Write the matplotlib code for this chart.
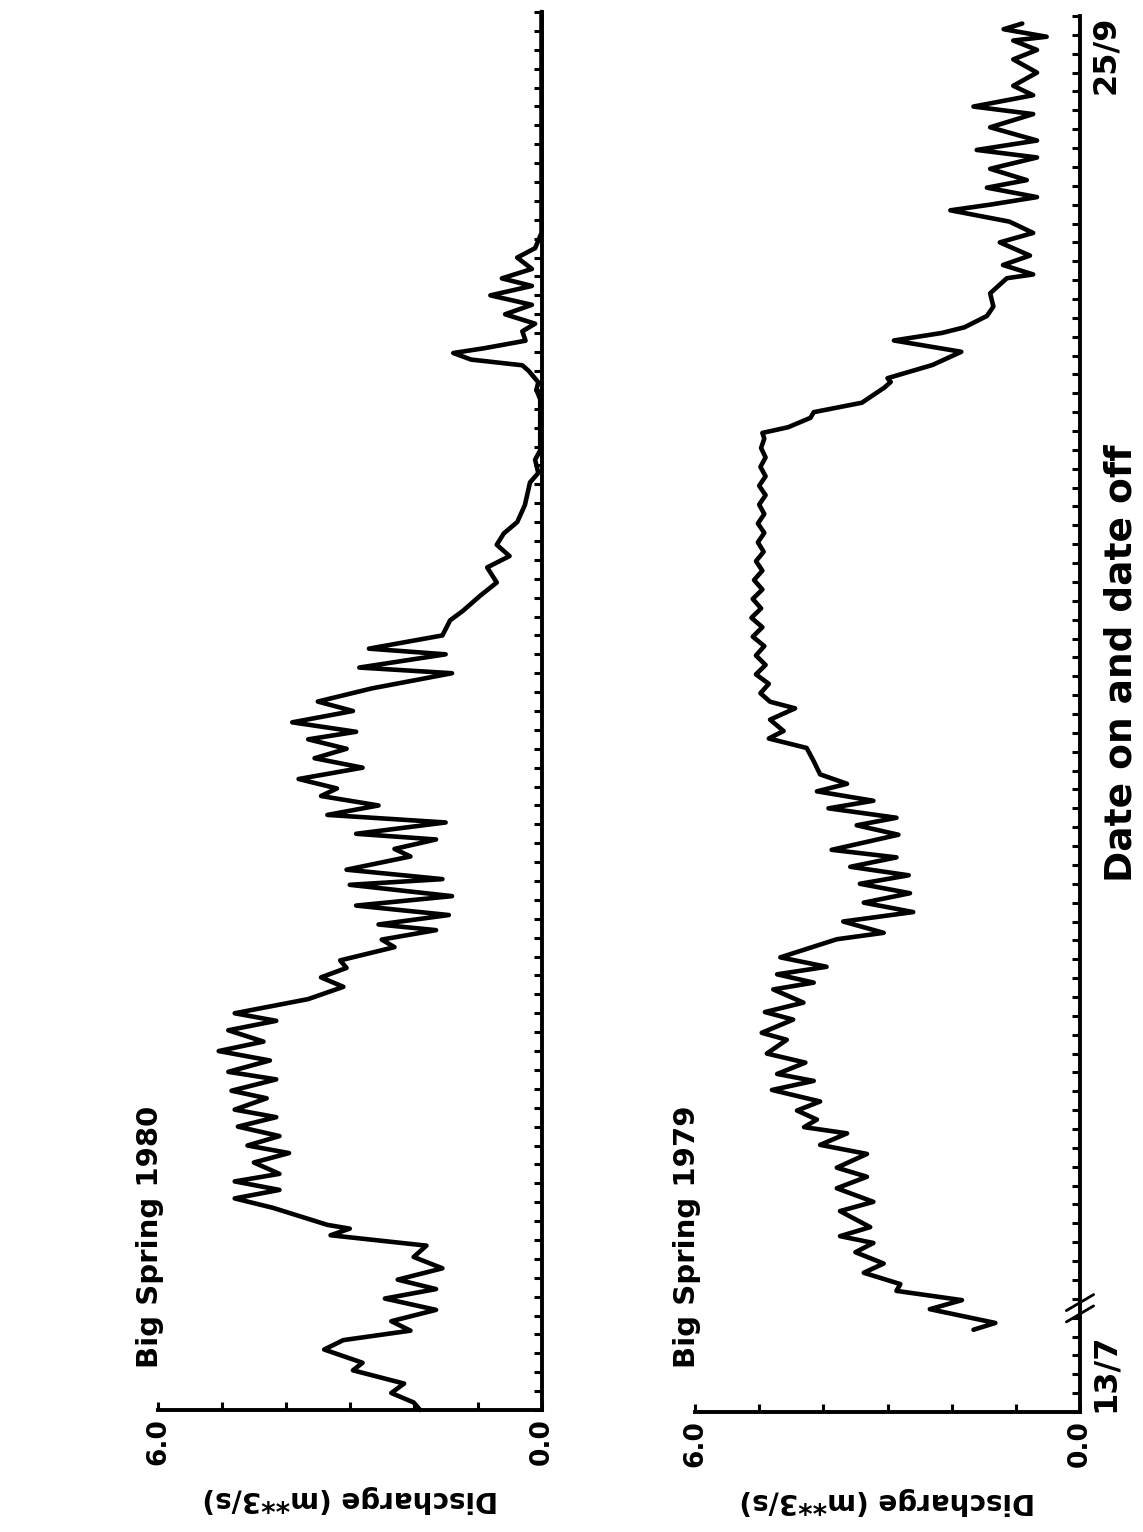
import numpy as np
import matplotlib
matplotlib.use("Agg")
import matplotlib.pyplot as plt

# ---------------------------------------------------------------
# Big Spring discharge, 1980 and 1979 (days after 13 July)
# ---------------------------------------------------------------
day_1980 = [0.0, 0.4, 0.9, 1.4, 2.1, 2.5, 3.2, 3.7, 4.2, 4.7, 5.3, 5.9, 6.4, 6.9,
            7.5, 8.1, 8.7, 9.25, 9.6, 9.8, 10.7, 11.2, 11.65, 12.1, 12.5, 13.1,
            13.6, 14.0, 14.5, 15.0, 15.5, 15.9, 16.5, 16.9, 17.5, 17.9, 18.5,
            19.0, 19.5, 20.1, 20.6, 21.0, 21.75, 22.4, 22.9, 23.4, 23.8, 24.5,
            24.9, 25.4, 25.7, 26.2, 26.7, 27.2, 27.8, 28.1, 28.6, 29.3, 29.7,
            30.2, 30.5, 31.1, 31.5, 32.0, 32.5, 32.9, 33.4, 34.0, 34.5, 35.0,
            35.5, 35.9, 36.4, 37.0, 37.5, 38.2, 39.0, 39.3, 40.0, 40.3, 41.0,
            41.8, 42.3, 43.1, 43.8, 44.6, 45.2, 45.8, 46.4, 47.0, 47.9, 49.1,
            49.6, 50.3, 50.8, 53.5, 54.0, 54.4, 55.0, 55.3, 55.6, 55.95, 56.2,
            56.6, 57.1, 57.5, 58.0, 58.5, 59.0, 59.5, 59.9, 60.4, 61.0, 61.5,
            62.3, 74.0]
q_1980 = [1.90, 2.00, 2.35, 2.15, 2.95, 2.80, 3.40, 3.10, 2.05, 2.35, 1.65, 2.45,
          1.65, 2.25, 1.55, 2.00, 1.80, 3.30, 3.00, 3.35, 4.20, 4.80, 4.10, 4.80,
          4.10, 4.50, 3.95, 4.60, 4.10, 4.75, 4.15, 4.80, 4.30, 4.85, 4.15, 4.90,
          4.25, 5.05, 4.35, 4.90, 4.15, 4.80, 3.65, 3.10, 3.45, 3.05, 3.15, 2.30,
          2.50, 1.65, 2.55, 1.45, 2.90, 1.40, 3.00, 1.55, 3.05, 2.05, 2.30, 1.65,
          2.90, 1.50, 3.35, 2.55, 3.45, 3.20, 3.80, 2.80, 3.55, 3.05, 3.65, 2.90,
          3.90, 2.95, 3.50, 2.65, 1.40, 2.85, 1.50, 2.70, 1.55, 1.43, 1.23, 0.96,
          0.70, 0.85, 0.50, 0.70, 0.59, 0.38, 0.26, 0.18, 0.05, 0.10, 0.02, 0.02,
          0.08, 0.05, 0.20, 0.30, 1.10, 1.38, 0.90, 0.25, 0.30, 0.10, 0.57, 0.15,
          0.80, 0.15, 0.62, 0.15, 0.38, 0.10, 0.00, 0.00]

day_1979 = [4.36, 4.72, 5.45, 5.93, 6.42, 6.78, 7.38, 7.87, 8.47, 8.96, 9.32, 9.8,
            10.65, 11.14, 11.86, 12.47, 12.95, 13.68, 14.16, 14.77, 15.1, 15.5,
            15.98, 16.46, 17.07, 17.55, 17.92, 18.52, 19.0, 19.73, 20.1, 20.8,
            21.2, 21.7, 22.4, 22.76, 23.2, 23.6, 24.1, 25.06, 25.4, 26.0, 26.5,
            27.0, 27.5, 28.0, 28.45, 28.9, 29.4, 29.8, 30.6, 31.1, 31.5, 32.0,
            32.4, 32.9, 33.3, 33.8, 34.5, 35.2, 35.7, 36.1, 36.7, 37.3, 37.65,
            38.1, 38.6, 39.1, 39.6, 40.1, 40.6, 41.1, 41.6, 42.1, 42.6, 43.1,
            43.6, 44.1, 44.6, 45.1, 45.6, 46.1, 46.6, 47.1, 47.6, 48.1, 48.6,
            49.1, 49.6, 50.1, 50.6, 51.1, 51.6, 51.9, 52.2, 52.7, 53.0, 53.5,
            54.3, 54.6, 54.8, 55.5, 56.2, 56.8, 57.2, 57.5, 58.1, 58.6, 59.3,
            60.1, 60.3, 60.8, 61.3, 62.0, 62.5, 63.1, 63.7, 64.0, 64.4, 64.9,
            65.3, 65.9, 66.5, 66.9, 67.4, 68.1, 68.8, 69.2, 69.8, 70.3, 71.0,
            71.7, 72.2, 72.7, 72.9, 73.3, 73.6]
q_1979 = [1.66, 1.32, 2.34, 1.84, 2.86, 2.80, 3.37, 3.06, 3.50, 3.22, 3.74, 3.27,
          3.74, 3.22, 3.79, 3.32, 3.79, 3.32, 4.05, 3.63, 4.30, 4.10, 4.41, 4.05,
          4.80, 4.15, 4.72, 4.28, 4.88, 4.57, 4.96, 4.47, 4.91, 4.31, 4.78, 4.15,
          4.72, 3.95, 4.67, 3.79, 3.06, 3.69, 2.60, 3.37, 2.65, 3.43, 2.67, 3.58,
          2.86, 3.87, 2.83, 3.48, 2.86, 3.92, 3.22, 4.10, 3.63, 4.05, 4.15, 4.26,
          4.85, 4.62, 4.83, 4.44, 4.83, 4.98, 4.85, 5.05, 4.90, 5.05, 4.92, 5.10,
          4.95, 5.12, 4.97, 5.10, 4.95, 5.08, 4.95, 5.05, 4.93, 5.02, 4.92, 5.02,
          4.92, 5.00, 4.90, 5.00, 4.90, 4.98, 4.90, 4.97, 4.92, 4.95, 4.55, 4.20,
          4.15, 3.40, 3.05, 2.95, 3.00, 2.30, 1.85, 2.90, 2.15, 1.80, 1.45, 1.35,
          1.40, 1.14, 0.73, 1.20, 0.78, 1.25, 0.73, 1.10, 2.02, 1.40, 0.67, 1.45,
          0.83, 1.40, 0.67, 1.61, 0.67, 1.40, 0.73, 1.66, 0.73, 1.04, 0.67, 1.04,
          0.67, 1.04, 0.52, 1.19, 0.90]

panels = [
    # (label, days, discharge, left px, right px, bottom px, top px)
    ("Big Spring 1980", day_1980, q_1980, 158, 541.5, 1410, 12),
    ("Big Spring 1979", day_1979, q_1979, 695, 1080, 1412, 16),
]

W, H = 1143, 1532
fig = plt.figure(figsize=(W / 100, H / 100), dpi=100)
fig.patch.set_facecolor("white")
plt.rcParams["font.family"] = ["DejaVu Sans"]


def fx(px):
    return px / W


def fy(py):
    return 1 - py / H


axes = []
for title, days, q, x0, x1, y0, y1 in panels:
    ax = fig.add_axes([fx(x0), fy(y0), fx(x1) - fx(x0), fy(y1) - fy(y0)])
    ax.set_facecolor("none")
    ax.plot(q, days, color="black", lw=3.3, solid_joinstyle="round",
            solid_capstyle="round", clip_on=False, zorder=3)
    ax.set_xlim(6, 0)
    ax.set_ylim(0, 74)
    for side in ("left", "top"):
        ax.spines[side].set_visible(False)
    for side in ("right", "bottom"):
        ax.spines[side].set_linewidth(2.8)
    # daily ticks along the date axis
    ax.yaxis.tick_right()
    ax.set_yticks(np.arange(0, 75))
    ax.tick_params(axis="y", direction="in", length=6, width=2.2,
                   labelright=False, right=True, left=False)
    ax.set_xticks(np.arange(0, 7))
    ax.set_xticklabels(["0.0", "", "", "", "", "", "6.0"], rotation=90,
                       fontsize=19, fontweight="bold")
    ax.tick_params(axis="x", direction="in", length=6, width=2.2, pad=6)
    ax.set_xlabel("Discharge (m**3/s)", rotation=180, fontsize=20,
                  fontweight="bold", labelpad=14)
    fig.text(fx(x0 - 8), fy(1368), title, rotation=90, ha="center",
             va="bottom", fontsize=21, fontweight="bold")
    axes.append(ax)

ax2 = axes[1]
ax2.annotate("13/7", xy=(0, 0), xytext=(7, 0), textcoords="offset points",
             rotation=90, ha="left", va="bottom", fontsize=23,
             fontweight="bold", annotation_clip=False)
ax2.annotate("25/9", xy=(0, 74), xytext=(7, 0), textcoords="offset points",
             rotation=90, ha="left", va="top", fontsize=23,
             fontweight="bold", annotation_clip=False)
# axis break on the date axis
for off in (0.0, 0.6):
    ax2.annotate("", xy=(-0.25, 5.7 + off), xytext=(0.25, 4.7 + off),
                 arrowprops=dict(arrowstyle="-", lw=2.0, color="black"),
                 annotation_clip=False)

fig.text(fx(1122), fy(663), "Date on and date off", rotation=90,
         ha="center", va="center", fontsize=27, fontweight="bold")

fig.savefig("out.png", dpi=100, facecolor="white")
